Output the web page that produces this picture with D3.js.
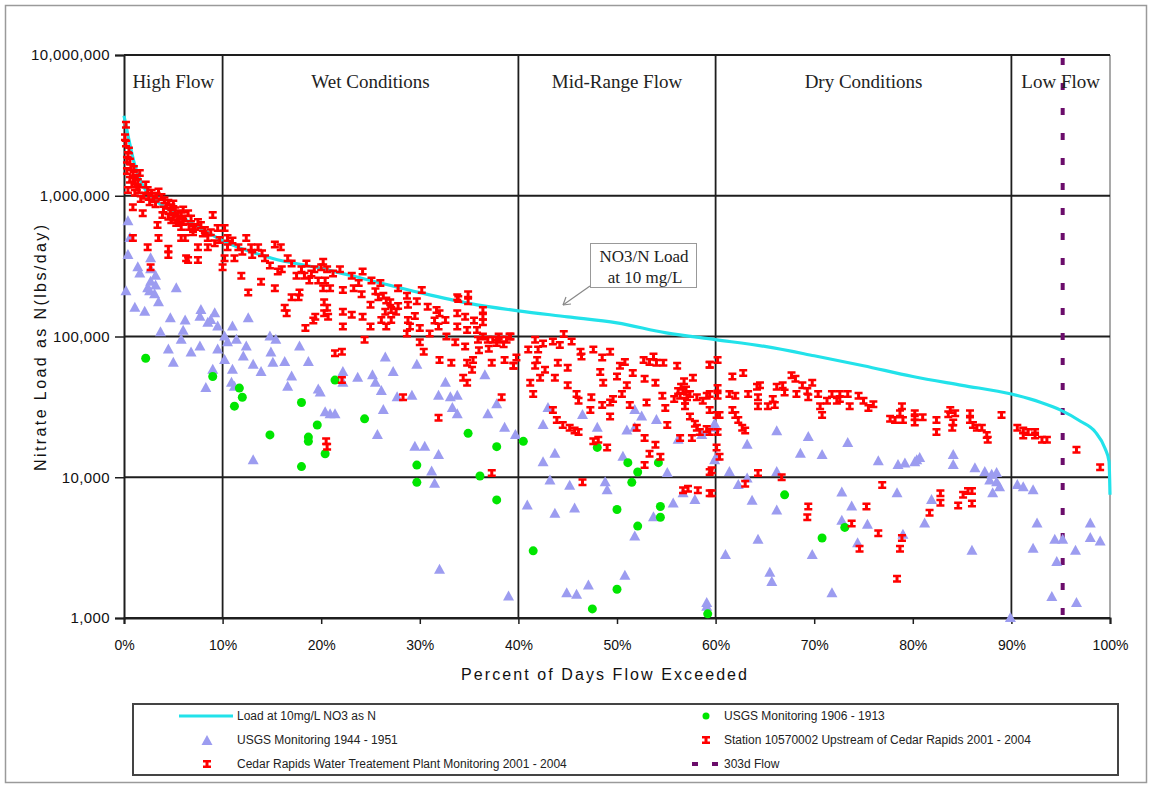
<!DOCTYPE html>
<html>
<head>
<meta charset="utf-8">
<script src="https://cdn.jsdelivr.net/npm/d3@7"></script>
<style>
  body { margin: 0; background: #fff; }
  svg { display: block; }
</style>
</head>
<body>
<svg id="chart" width="1151" height="787"></svg>
<script>
// load duration curve at 10 mg/L (percent exceeded, lbs/day)
var loadPct = [0, 0.5, 1, 2, 3, 5, 7, 10, 15, 20, 25, 30, 35, 40, 45, 50, 55, 60, 65, 70, 75, 80, 85, 90, 93, 95, 97, 98.5, 99.5, 99.9, 100];
var loadVal = [3.7e6, 2.5e6, 1.75e6, 1.15e6, 9.6e5, 7.6e5, 6.3e5, 4.8e5, 3.6e5, 3.05e5, 2.5e5, 2.05e5, 1.72e5, 1.52e5, 1.38e5, 1.25e5, 1.06e5, 9.5e4, 8.5e4, 7.3e4, 6.2e4, 5.2e4, 4.5e4, 3.9e4, 3.4e4, 3.0e4, 2.5e4, 2.1e4, 1.6e4, 1.3e4, 7.5e3];

var zoneNames = ["High Flow", "Wet Conditions", "Mid-Range Flow", "Dry Conditions", "Low Flow"];
var zoneBreaks = [0, 10, 40, 60, 90, 100];
var flow303d = 95.2;

var yTicks = [1e3, 1e4, 1e5, 1e6, 1e7];
var xTicks = [0, 10, 20, 30, 40, 50, 60, 70, 80, 90, 100];

// Cedar Rapids WTP monitoring 2001-2004 [pct, lbs/day]
var wtpData = [
  [0.2,3.2e6],[0.2,2.35e6],[0.4,1.95e6],[0.6,1.75e6],[0.7,1.6e6],[0.3,1.5e6],[0.9,1.45e6],[1.2,1.35e6],[0.6,1.3e6],[1.1,1.28e6],[1.6,1.45e6],[1.4,1.25e6],[0.1,2.6e6],[0.5,2.1e6],[0.3,1.8e6],[0.8,1.2e6],[1.0,1.55e6],[1.3,1.15e6],
  [1.1,1.05e6],[2.4,1.1e6],[2.8,1.05e6],[3.5,1.07e6],[3.8,9.8e5],[4.1,9.3e5],[4.5,8.9e5],[4.8,8.3e5],[5.2,7.9e5],[5.5,7.5e5],[5.8,7.3e5],[6.2,6.9e5],[6.5,7.5e5],[4.8,6.7e5],[4.5,7.1e5],[5.3,6.4e5],[5.8,6.0e5],[6.8,6.9e5],[7.5,6.5e5],[7.8,6.2e5],[9.0,7.3e5],[8.2,5.7e5],[7.0,5.5e5],[6.2,5.0e5],[8.5,5.0e5],[9.5,5.9e5],[9.7,4.85e5],[10.2,5.9e5],[0.9,8.3e5],[1.9,7.5e5],[0.9,5.0e5],[2.4,4.3e5],[3.5,5.0e5],[4.5,4.2e5],[4.5,3.8e5],[2.7,3.1e5],[6.5,3.5e5],[7.5,3.5e5],[6.3,3.6e5],[3.4,6.2e5],[5.8,5.0e5],[7.5,4.3e5],[8.5,4.3e5],[10.2,3.6e5],[10.0,3.1e5],[10.5,4.3e5],[10.5,5.0e5],[11.6,4.3e5],[11.2,3.6e5],[11.9,2.7e5],[12.4,5.0e5],[12.6,2.05e5],[13.6,4.3e5],[12.9,4.3e5],[13.9,2.45e5],[14.3,3.6e5],[15.3,4.5e5],[15.9,4.3e5],[15.3,2.2e5],[15.6,2.9e5],[16.6,3.6e5],[17.0,3.3e5],[17.0,1.9e5],[17.8,2.05e5],[18.0,3.0e5],[18.3,2.7e5],[18.8,2.5e5],[19.3,3.0e5],[19.7,2.5e5],[20.0,3.1e5],[16.5,1.46e5],[19.4,1.38e5],[19.2,1.3e5],[18.4,1.15e5],[16.3,1.6e5],[17.7,1.9e5],[20.3,1.75e5],[20.3,1.46e5],[20.5,1.8e4],
  [2.0,1.0e6],[3.0,9.5e5],[3.2,8.7e5],[4.0,8.0e5],[5.0,8.8e5],[2.6,9.0e5],[3.9,7.3e5],[5.6,6.6e5],[6.0,8.0e5],[7.2,6.0e5],[8.0,5.4e5],[8.8,5.5e5],[9.2,4.6e5],[11.0,4.8e5],[12.0,4.0e5],[13.0,3.8e5],[14.0,3.9e5],[14.8,3.2e5],[16.0,3.0e5],[17.5,2.7e5],[18.5,3.3e5],[19.0,2.8e5],
  [1.5,1.1e6],[2.2,1.2e6],[2.5,9.8e5],[3.3,1.0e6],[4.3,8.5e5],[4.7,7.8e5],[5.0,7.0e5],[5.5,6.8e5],[6.0,6.5e5],[6.6,6.0e5],[7.0,5.8e5],[0.4,1.1e6],[1.7,9.5e5],
  [20.2,3.4e5],[20.6,3.0e5],[21.2,2.8e5],[21.9,3.0e5],[20.4,2.5e5],[20.9,2.2e5],[20.2,2.2e5],[20.6,1.6e5],[20.7,1.38e5],[22.2,2.14e5],[23.1,2.7e5],[23.3,2.2e5],[22.2,1.5e5],[23.1,1.43e5],[22.2,1.18e5],[24.2,2.9e5],[24.1,2.0e5],[24.2,1.38e5],[24.4,9.5e4],[25.1,2.5e5],[25.0,1.68e5],[25.0,1.18e5],[26.0,2.4e5],[25.8,1.9e5],[26.3,1.95e5],[26.6,1.8e5],[27.0,1.75e5],[27.1,1.54e5],[26.5,1.5e5],[26.1,1.31e5],[27.1,1.31e5],[26.6,1.18e5],[27.8,2.2e5],[27.6,1.5e5],[28.7,1.95e5],[28.8,1.68e5],[28.8,1.31e5],[29.0,1.18e5],[28.7,1.05e5],[30.2,2.14e5],[29.7,1.78e5],[30.8,1.63e5],[30.0,1.15e5],[30.0,9.1e4],[30.4,7.8e4],[31.0,1.05e5],[31.7,1.54e5],[32.0,1.46e5],[31.9,1.18e5],[32.6,1.31e5],[32.7,1.0e5],[32.0,6.8e4],[33.2,6.5e4],[33.8,1.46e5],[33.8,1.18e5],[33.6,9.1e4],[33.9,1.85e5],[34.6,1.38e5],[34.8,1.11e5],[34.6,8.5e4],[34.9,1.78e5],[34.8,6.5e4],[35.4,6.8e4],[35.3,5.8e4],[34.4,5.1e4],[34.8,4.7e4],[35.8,1.11e5],[35.9,9.5e4],[36.4,1.54e5],[36.4,1.26e5],[36.4,1.0e5],[36.9,9.5e4],[37.4,9.5e4],[38.1,9.5e4],[38.8,9.5e4],[39.2,1.0e5],[37.3,6.5e4],[38.6,6.8e4],[39.5,6.2e4],[38.3,3.7e4],[37.3,1.07e4],[31.9,2.65e4],[20.6,1.65e4],[28.3,3.7e4],[22.1,4.9e4],[21.4,7.6e4],[22.1,7.8e4],[34.9,2.0e5],[33.8,1.9e5],[36.4,1.38e5],
  [37.8,9.0e4],[38.5,8.8e4],[38.0,1.0e5],[37.0,8.2e4],[36.0,8.0e4],[35.5,1.3e5],[29.5,1.4e5],[31.5,1.3e5],[27.8,1.65e5],[25.5,2.1e5],[23.8,2.4e5],
  [39.1,1.0e5],[39.8,7.1e4],[39.5,6.2e4],[41.7,9.5e4],[41.0,8.1e4],[42.0,8.1e4],[41.9,6.8e4],[41.7,6.2e4],[42.7,5.8e4],[42.2,5.1e4],[41.2,4.7e4],[41.5,3.9e4],[43.5,9.2e4],[44.2,8.7e4],[44.6,1.04e5],[45.4,9.2e4],[46.3,7.8e4],[46.4,7.2e4],[43.7,5.1e4],[45.0,6.0e4],[45.0,4.5e4],[45.9,3.9e4],[46.1,3.5e4],[43.5,3.0e4],[43.9,2.55e4],[44.5,2.35e4],[45.2,2.25e4],[45.7,2.15e4],[46.1,2.1e4],[47.4,3.7e4],[47.3,3.0e4],[47.6,8.1e4],[48.5,7.1e4],[48.3,5.6e4],[48.6,4.7e4],[49.3,7.8e4],[49.3,3.4e4],[49.6,3.6e4],[49.3,2.7e4],[48.5,3.26e4],[47.6,1.8e4],[48.1,1.85e4],[49.0,1.63e4],[46.5,9.2e3],[50.3,6.2e4],[50.8,6.6e4],[50.5,3.9e4],[51.3,3.26e4],[51.6,5.5e4],[52.0,2.25e4],[52.7,6.8e4],[52.8,5.0e4],[53.0,3.4e4],[53.3,6.6e4],[53.7,7.2e4],[53.9,4.7e4],[54.0,6.5e4],[54.6,3.8e4],[54.7,6.5e4],[54.9,3.1e4],[55.1,2.35e4],[52.8,1.9e4],[53.3,1.47e4],[53.9,1.7e4],[54.4,1.4e4],[52.8,1.22e4],[56.1,6.2e4],[56.2,4.1e4],[56.7,4.1e4],[57.1,3.7e4],[56.4,3.8e4],[57.4,3.9e4],[56.9,3.5e4],[57.7,5.1e4],[58.1,3.7e4],[56.9,3.2e4],[57.4,2.7e4],[57.9,2.4e4],[58.7,3.5e4],[59.4,6.3e4],[59.4,3.9e4],[58.1,2.25e4],[56.4,1.9e4],[57.6,1.9e4],[58.4,2.1e4],[59.4,2.1e4],[59.4,1.09e4],[56.7,8.1e3],[57.2,8.3e3],[58.2,8.1e3],[59.4,7.7e3],[60.1,2.77e4],
  [56.5,4.4e4],[57.0,4.2e4],[56.8,4.8e4],[55.8,3.6e4],[51.0,4.5e4],[50.0,5.2e4],[44.0,6.5e4],[42.5,8.9e4]
];

// Station 10570002 upstream of Cedar Rapids 2001-2004
var stationData = [
  [59.4,6.3e4],[60.2,6.8e4],[59.1,3.8e4],[59.4,3.0e4],[59.1,2.2e4],[60.2,4.3e4],[60.2,3.8e4],[60.4,2.77e4],[60.2,2.1e4],[60.1,1.63e4],[60.4,1.4e4],[59.6,1.12e4],[59.6,7.7e3],[61.7,5.2e4],[61.4,3.9e4],[62.0,3.8e4],[61.7,3.0e4],[62.0,2.77e4],[62.3,2.55e4],[62.7,2.25e4],[63.0,2.15e4],[62.8,5.5e4],[63.3,3.9e4],[64.2,4.4e4],[64.3,3.7e4],[64.3,3.2e4],[65.3,3.2e4],[64.5,4.5e4],[66.2,4.4e4],[66.8,4.5e4],[66.0,3.26e4],[67.7,5.3e4],[68.1,5.0e4],[68.2,3.9e4],[68.8,4.5e4],[69.3,4.1e4],[69.4,3.7e4],[69.8,4.7e4],[70.4,3.9e4],[70.6,3.2e4],[70.8,2.77e4],[71.3,3.5e4],[71.8,3.9e4],[72.3,3.5e4],[72.6,3.9e4],[72.6,3.6e4],[73.4,3.9e4],[73.6,3.2e4],[75.5,3.1e4],[77.7,2.6e4],[78.2,2.55e4],[78.7,2.85e4],[78.9,3.2e4],[79.0,2.55e4],[80.2,2.67e4],[80.2,2.45e4],[64.3,1.07e4],[66.7,1.0e4],[63.0,9.0e3],[69.4,6.2e3],[69.3,5.2e3],[73.8,4.7e3],[75.3,6.2e3],[76.9,8.8e3],[76.5,4.0e3],[78.9,3.7e3],[78.7,3.1e3],[74.6,3.1e3],[78.4,1.9e3],
  [80.2,2.85e4],[81.0,2.67e4],[82.4,2.55e4],[82.4,2.1e4],[83.8,3.0e4],[83.6,2.8e4],[84.3,2.85e4],[84.1,2.45e4],[84.0,2.25e4],[85.8,2.85e4],[85.8,2.55e4],[86.1,2.35e4],[86.5,2.25e4],[87.0,2.25e4],[87.5,2.0e4],[87.6,1.85e4],[89.0,2.77e4],[90.6,2.25e4],[91.2,2.15e4],[91.2,1.98e4],[91.7,2.1e4],[92.4,2.1e4],[92.4,1.98e4],[93.1,1.85e4],[93.6,1.85e4],[96.6,1.57e4],[99.0,1.18e4],[82.8,7.7e3],[82.8,6.6e3],[84.6,6.3e3],[85.1,7.5e3],[85.6,8.0e3],[86.0,8.0e3],[86.0,6.5e3],[81.7,5.6e3],
  [74.5,3.8e4],[76.0,3.3e4],[75.0,3.5e4],[67.0,4.0e4],[65.8,3.6e4]
];

// USGS monitoring 1944-1951
var usgs1944 = [
  [0.4,6.6e5],[0.6,5.0e5],[0.4,3.8e5],[0.2,2.1e5],[1.4,3.1e5],[1.6,2.8e5],[2.7,3.6e5],[2.7,3.0e5],[2.7,2.45e5],[2.6,2.1e5],[3.2,2.7e5],[3.2,2.3e5],[3.1,2.0e5],[2.4,2.2e5],[1.1,1.6e5],[2.1,1.5e5],[3.5,1.75e5],[5.3,2.2e5],[4.7,1.35e5],[3.7,1.07e5],[6.2,1.3e5],[6.0,1.1e5],[5.8,9.5e4],[4.5,8.1e4],[5.0,6.5e4],[6.8,7.7e4],[7.7,8.5e4],[7.8,1.54e5],[7.7,1.38e5],[8.5,1.25e5],[9.2,1.46e5],[8.8,1.31e5],[9.5,1.18e5],[9.5,8.1e4],[9.0,5.8e4],[8.3,4.3e4],[10.2,1.0e5],[10.5,9.1e4],[10.2,6.8e4],[11.0,1.18e5],[11.4,9.5e4],[11.0,5.8e4],[10.9,4.7e4],[11.2,4.4e4],[12.6,1.35e5],[12.4,8.5e4],[12.1,7.2e4],[13.1,6.3e4],[13.9,5.6e4],[13.1,1.32e4],[14.8,1.0e5],[15.4,9.5e4],[14.9,7.7e4],[15.1,6.5e4],[16.3,6.6e4],[17.0,5.2e4],[16.6,4.4e4],[17.8,8.5e4],[18.7,6.6e4],[19.7,4.2e4],[20.4,2.9e4],
  [26.5,7.1e4],[29.7,6.3e4],[27.3,5.6e4],[25.2,5.3e4],[23.7,5.1e4],[22.2,5.6e4],[22.2,4.7e4],[25.5,4.7e4],[26.1,4.1e4],[27.7,3.7e4],[29.2,3.8e4],[26.3,3.0e4],[20.9,2.8e4],[21.4,2.8e4],[25.7,2.0e4],[32.6,4.7e4],[31.9,3.8e4],[33.1,3.7e4],[33.8,3.8e4],[33.3,3.1e4],[33.8,2.8e4],[36.6,5.3e4],[37.8,3.3e4],[36.9,2.8e4],[38.6,2.25e4],[39.7,2.0e4],[29.5,1.65e4],[30.5,1.65e4],[31.9,1.44e4],[31.2,1.1e4],[31.5,9.0e3],[32.0,2.2e3],[39.0,1.42e3],[19.9,4.0e4],[40.9,6.3e3],
  [43.0,3.1e4],[42.5,2.35e4],[43.7,1.47e4],[42.5,1.28e4],[43.2,9.5e3],[45.2,8.7e3],[46.5,2.77e4],[48.0,2.25e4],[48.8,9.2e3],[49.0,8.1e3],[45.7,6.0e3],[43.7,5.5e3],[50.6,1.4e4],[51.0,2.15e4],[51.8,3.0e4],[52.5,2.7e4],[51.8,2.25e4],[54.0,2.55e4],[55.1,1.07e4],[55.7,6.5e3],[53.7,5.2e3],[51.8,3.8e3],[50.8,2.0e3],[47.1,1.7e3],[45.9,1.46e3],[44.9,1.5e3],[57.9,6.9e3],[59.1,1.28e3],[59.9,2.25e4],[56.2,1.85e4],[58.6,2.0e4],[59.9,1.32e4],[56.7,7.7e3],
  [59.9,2.4e4],[59.2,2.1e4],[60.1,1.4e4],[61.4,1.09e4],[62.3,8.8e3],[63.2,1.7e4],[63.7,6.8e3],[63.2,9.8e3],[66.2,2.12e4],[66.2,1.09e4],[66.2,5.8e3],[64.3,3.6e3],[61.0,2.8e3],[65.5,2.1e3],[65.7,1.8e3],[68.6,1.47e4],[69.4,1.93e4],[70.8,1.44e4],[69.8,2.8e3],[71.8,1.5e3],[72.8,7.8e3],[73.8,6.2e3],[73.4,1.75e4],[72.8,4.9e3],[75.4,4.6e3],[74.4,3.4e3],[76.5,1.3e4],[78.4,7.7e3],[78.5,1.22e4],[79.2,1.25e4],[80.2,1.28e4],[79.0,3.9e3],[59.1,1.2e3],
  [80.4,1.32e4],[80.7,1.37e4],[84.1,1.44e4],[84.1,1.22e4],[86.3,1.16e4],[87.3,1.09e4],[88.0,1.04e4],[88.5,1.07e4],[87.8,9.5e3],[88.5,9.2e3],[88.1,7.7e3],[88.8,8.5e3],[90.6,8.8e3],[91.2,8.5e3],[92.2,8.1e3],[81.9,6.9e3],[81.2,4.7e3],[86.0,3.0e3],[92.6,4.7e3],[92.2,3.1e3],[94.4,3.6e3],[95.2,3.6e3],[94.6,2.5e3],[96.5,3.0e3],[98.0,4.7e3],[98.0,3.7e3],[99.0,3.5e3],[94.1,1.41e3],[96.6,1.28e3],[89.9,1.0e3]
];

// USGS monitoring 1906-1913
var usgs1906 = [
  [2.2,7.0e4],[9.0,5.2e4],[11.2,3.2e4],[11.7,4.3e4],[12.0,3.7e4],[14.8,2.0e4],[18.0,3.4e4],[18.7,1.93e4],[18.7,1.8e4],[19.6,2.35e4],[20.4,1.47e4],[18.0,1.19e4],[21.4,4.9e4],[24.4,2.6e4],[29.7,1.22e4],[29.7,9.2e3],[34.9,2.05e4],[37.8,1.65e4],[36.1,1.02e4],[37.8,6.9e3],[40.5,1.8e4],[48.0,1.63e4],[51.1,1.27e4],[52.1,1.09e4],[51.5,9.2e3],[54.2,1.27e4],[50.0,5.9e3],[54.4,6.2e3],[54.4,5.2e3],[52.1,4.5e3],[41.5,3.0e3],[50.0,1.6e3],[47.5,1.16e3],[59.2,1.07e3],[67.0,7.5e3],[70.8,3.7e3],[73.1,4.4e3]
];

var legendItems = [
  {label: "Load at 10mg/L NO3 as N", type: "line"},
  {label: "USGS Monitoring 1906 - 1913", type: "dot"},
  {label: "USGS Monitoring 1944 - 1951", type: "tri"},
  {label: "Station 10570002 Upstream of Cedar Rapids 2001 - 2004", type: "ibeam"},
  {label: "Cedar Rapids Water Treatement Plant Monitoring 2001 - 2004", type: "ibeam"},
  {label: "303d Flow", type: "dash"}
];

var cyan = "#22e2ea", red = "#ff0000", blue = "#9c9cf0", green = "#00e600", purple = "#6b0d6b";
var sans = "'Liberation Sans', Arial, sans-serif";
var serif = "'Liberation Serif', 'Times New Roman', serif";

var svg = d3.select("#chart");

var x = d3.scaleLinear().domain([0, 100]).range([124, 1110]);
var y = d3.scaleLog().domain([1e3, 1e7]).range([618, 55]);

// outer frame
svg.append("rect")
  .attr("x", 5.5).attr("y", 5.5).attr("width", 1141).attr("height", 777)
  .attr("fill", "none").attr("stroke", "#9a9a9a").attr("stroke-width", 1.5);

// right border of plot
svg.append("line")
  .attr("x1", x(100)).attr("x2", x(100)).attr("y1", y(1e7)).attr("y2", y(1e3))
  .attr("stroke", "#8c8c8c").attr("stroke-width", 1.5);

// horizontal grid
svg.append("g").selectAll("line")
  .data(yTicks)
  .enter().append("line")
    .attr("x1", x(0)).attr("x2", x(100))
    .attr("y1", d => y(d)).attr("y2", d => y(d))
    .attr("stroke", "#1e1e1e").attr("stroke-width", 1.8);

// zone dividers
svg.append("g").selectAll("line")
  .data(zoneBreaks.slice(1, -1))
  .enter().append("line")
    .attr("x1", d => x(d)).attr("x2", d => x(d))
    .attr("y1", y(1e7)).attr("y2", y(1e3))
    .attr("stroke", "#1e1e1e").attr("stroke-width", 1.8);

// axes
var yAxis = d3.axisLeft(y).tickValues(yTicks).tickFormat(d3.format(",")).tickSize(9).tickPadding(5);
var gy = svg.append("g").attr("transform", "translate(" + x(0) + ",0)").call(yAxis);
gy.select(".domain").attr("stroke", "#1e1e1e").attr("stroke-width", 2);
gy.selectAll(".tick line").attr("stroke", "#1e1e1e").attr("stroke-width", 1.5);
gy.selectAll("text").attr("font-family", sans).attr("font-size", 15).attr("fill", "#111")
  .attr("letter-spacing", 0.4);

var xAxis = d3.axisBottom(x).tickValues(xTicks).tickFormat(d => d + "%").tickSize(6).tickPadding(16);
var gx = svg.append("g").attr("transform", "translate(0," + y(1e3) + ")").call(xAxis);
gx.select(".domain").attr("stroke", "#1e1e1e").attr("stroke-width", 2);
gx.selectAll(".tick line").attr("stroke", "#1e1e1e").attr("stroke-width", 1.5);
gx.selectAll("text").attr("font-family", sans).attr("font-size", 14).attr("fill", "#111");

svg.append("text")
  .attr("x", 604).attr("y", 680)
  .attr("text-anchor", "middle")
  .attr("font-family", sans).attr("font-size", 16).attr("fill", "#111")
  .attr("textLength", 286)
  .text("Percent of Days Flow Exceeded");

svg.append("text")
  .attr("transform", "translate(46,348) rotate(-90)")
  .attr("text-anchor", "middle")
  .attr("font-family", sans).attr("font-size", 16).attr("fill", "#111")
  .attr("textLength", 246)
  .text("Nitrate Load as N(lbs/day)");

// 303(d) flow line
svg.append("line")
  .attr("x1", x(flow303d)).attr("x2", x(flow303d))
  .attr("y1", 58).attr("y2", y(1e3))
  .attr("stroke", purple).attr("stroke-width", 4)
  .attr("stroke-dasharray", "7 18");

// zone labels
svg.append("g").selectAll("text")
  .data(zoneNames)
  .enter().append("text")
    .attr("x", (d, i) => x((zoneBreaks[i] + zoneBreaks[i + 1]) / 2))
    .attr("y", 88)
    .attr("text-anchor", "middle")
    .attr("font-family", serif).attr("font-size", 19).attr("fill", "#222")
    .text(d => d);

// load curve
var line = d3.line()
  .x(d => x(d[0]))
  .y(d => y(d[1]))
  .curve(d3.curveMonotoneX);

svg.append("path")
  .datum(loadPct.map((p, i) => [p, loadVal[i]]))
  .attr("d", line)
  .attr("fill", "none")
  .attr("stroke", cyan)
  .attr("stroke-width", 3.2);

// markers
var triPath = "M0,-6L5.5,4L-5.5,4Z";
var ibeamPath = "M-4,-4h8v2.5h-2.5v3h2.5v2.5h-8v-2.5h2.5v-3h-2.5Z";

svg.append("g").selectAll("path")
  .data(usgs1944)
  .enter().append("path")
    .attr("transform", d => "translate(" + x(d[0]) + "," + y(d[1]) + ")")
    .attr("d", triPath)
    .attr("fill", blue);

svg.append("g").selectAll("circle")
  .data(usgs1906)
  .enter().append("circle")
    .attr("cx", d => x(d[0]))
    .attr("cy", d => y(d[1]))
    .attr("r", 4.5)
    .attr("fill", green);

svg.append("g").selectAll("path")
  .data(wtpData.concat(stationData))
  .enter().append("path")
    .attr("transform", d => "translate(" + x(d[0]) + "," + y(d[1]) + ")")
    .attr("d", ibeamPath)
    .attr("fill", red);

// annotation
svg.append("line")
  .attr("x1", 590).attr("y1", 286).attr("x2", 563).attr("y2", 305)
  .attr("stroke", "#888").attr("stroke-width", 1.2);
svg.append("path")
  .attr("d", "M563,305L566,297M563,305L571,304")
  .attr("stroke", "#888").attr("stroke-width", 1.2).attr("fill", "none");
svg.append("rect")
  .attr("x", 590.5).attr("y", 243.5).attr("width", 106).attr("height", 44)
  .attr("fill", "#fff").attr("stroke", "#999").attr("stroke-width", 1);
svg.append("text")
  .attr("x", 644).attr("y", 262).attr("text-anchor", "middle")
  .attr("font-family", serif).attr("font-size", 17).attr("fill", "#222")
  .text("NO3/N Load");
svg.append("text")
  .attr("x", 645).attr("y", 283).attr("text-anchor", "middle")
  .attr("font-family", serif).attr("font-size", 17).attr("fill", "#222")
  .text("at 10 mg/L");

// legend
var lg = svg.append("g");
lg.append("rect")
  .attr("x", 133).attr("y", 704).attr("width", 985).attr("height", 71)
  .attr("fill", "#fff").attr("stroke", "#444").attr("stroke-width", 2);

var rowY = [716, 740, 764];
var colSym = [207, 706];
var colText = [237, 724];

legendItems.forEach(function(item, i) {
  var col = i % 2, row = Math.floor(i / 2);
  var cx = colSym[col], cy = rowY[row];
  var g = lg.append("g");
  if (item.type == "line") {
    g.append("line").attr("x1", cx - 28).attr("x2", cx + 26).attr("y1", cy).attr("y2", cy)
      .attr("stroke", cyan).attr("stroke-width", 3.2);
  } else if (item.type == "dot") {
    g.append("circle").attr("cx", cx).attr("cy", cy).attr("r", 3.5).attr("fill", green);
  } else if (item.type == "tri") {
    g.append("path").attr("transform", "translate(" + cx + "," + (cy + 1) + ")").attr("d", triPath).attr("fill", blue);
  } else if (item.type == "ibeam") {
    g.append("path").attr("transform", "translate(" + cx + "," + cy + ")").attr("d", ibeamPath).attr("fill", red);
  } else {
    g.append("line").attr("x1", cx - 14).attr("x2", cx + 12).attr("y1", cy).attr("y2", cy)
      .attr("stroke", purple).attr("stroke-width", 4).attr("stroke-dasharray", "6 14");
  }
  g.append("text")
    .attr("x", colText[col]).attr("y", cy + 4)
    .attr("font-family", sans).attr("font-size", 12).attr("fill", "#222")
    .text(item.label);
});
</script>
</body>
</html>
